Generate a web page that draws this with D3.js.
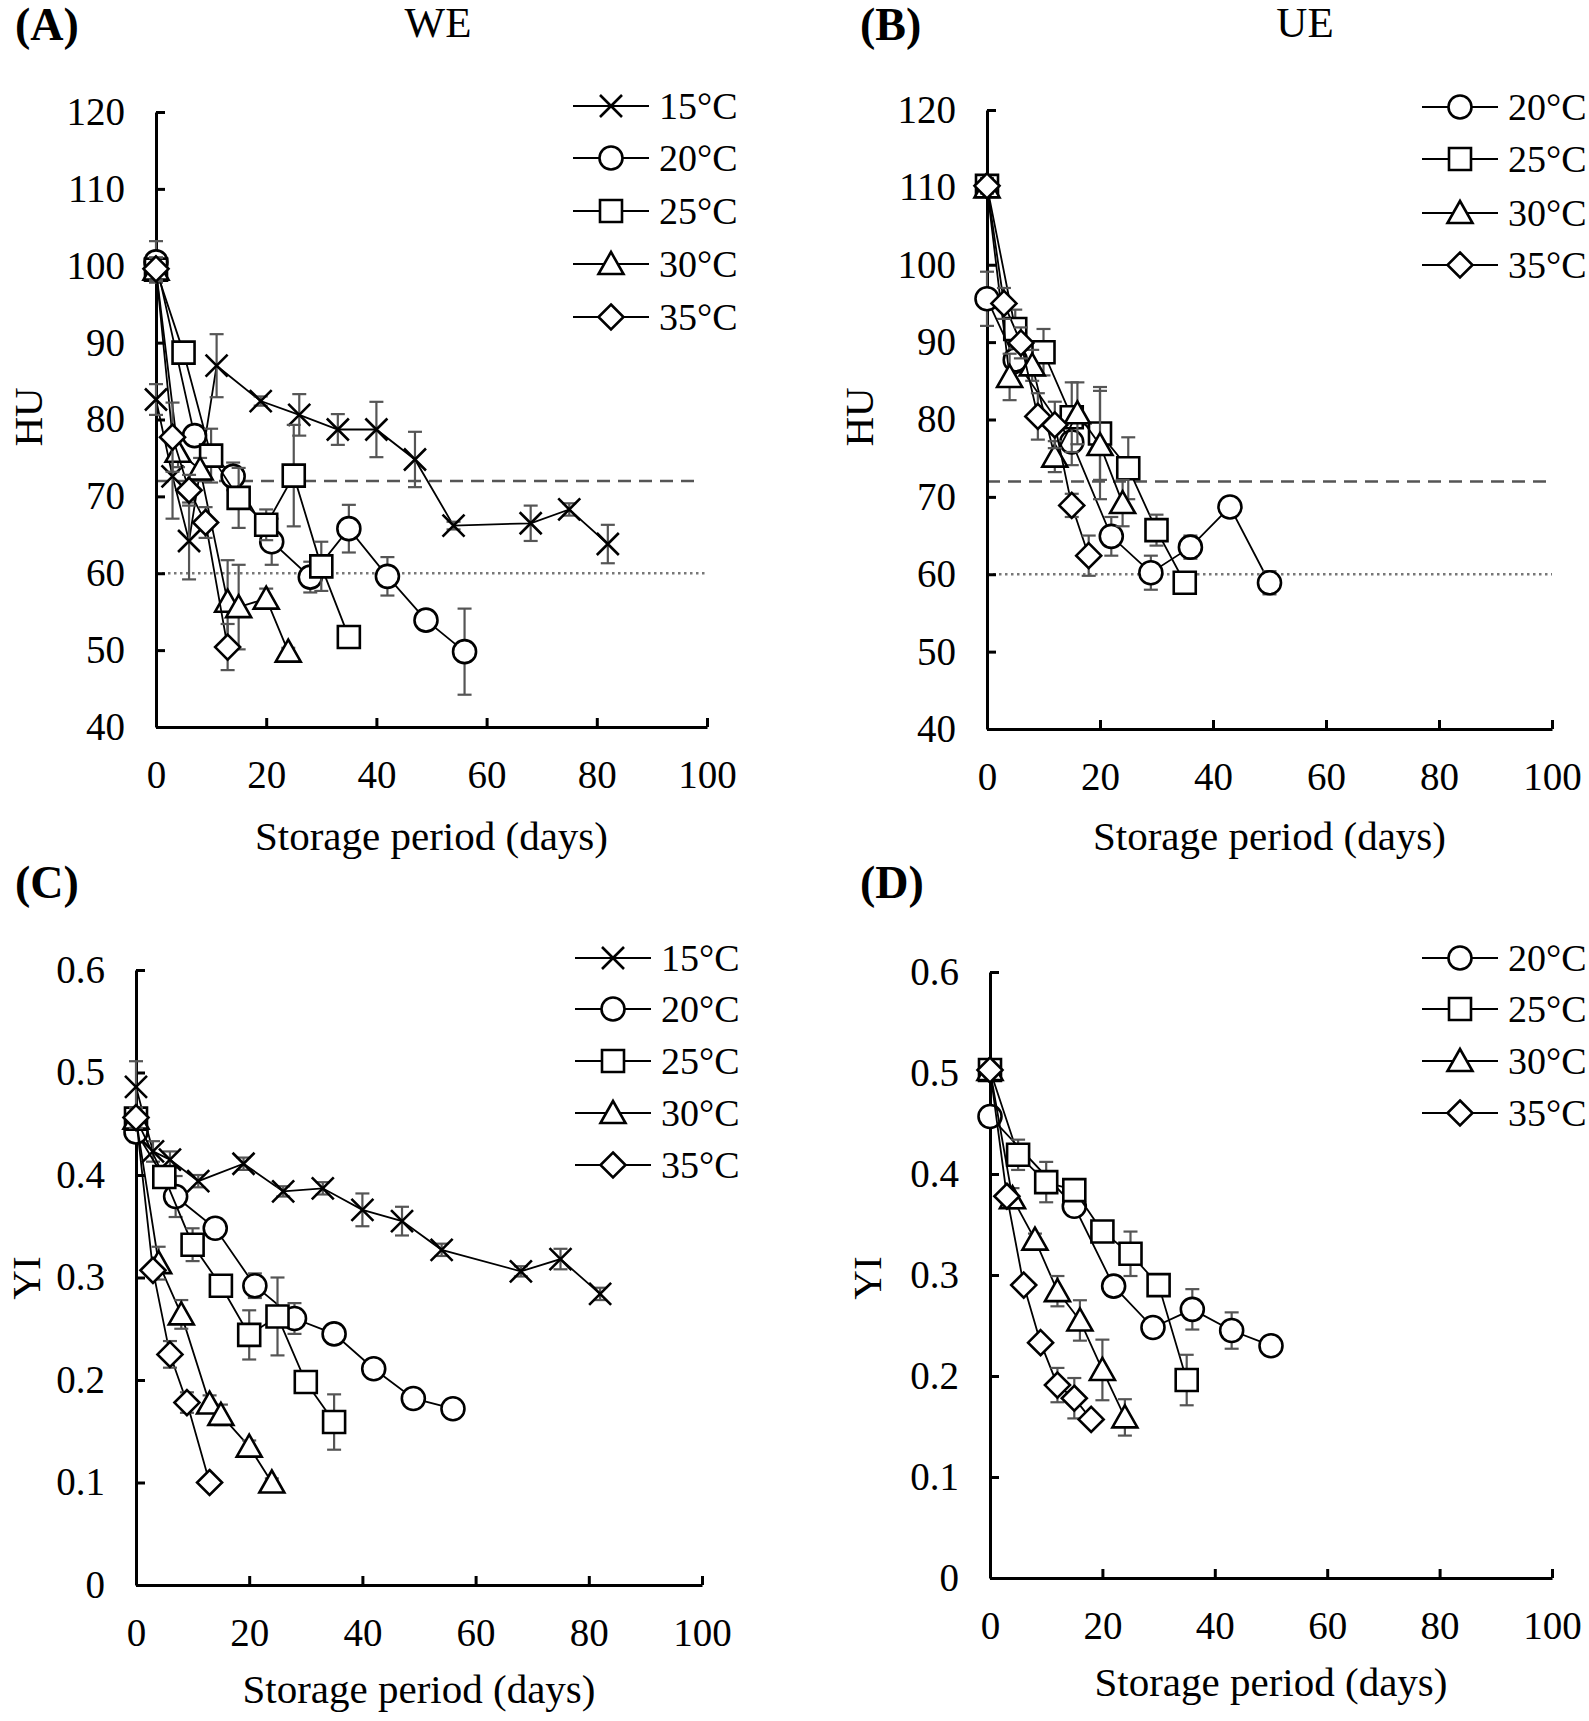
<!DOCTYPE html>
<html><head><meta charset="utf-8">
<script src="https://cdn.jsdelivr.net/npm/d3@7"></script>
<style>
body{margin:0;background:#fff}
svg{display:block}
text{font-family:"Liberation Serif","Times New Roman",serif;fill:#000}
</style>
</head><body>
<svg id="chart" width="1589" height="1721"></svg>
<script>
// ---------- tick labels ----------
const xTicks = [0, 20, 40, 60, 80, 100];
const huTicks = [40, 50, 60, 70, 80, 90, 100, 110, 120];
const yiTicks = [0, 0.1, 0.2, 0.3, 0.4, 0.5, 0.6];
const tempLabels = ["15°C", "20°C", "25°C", "30°C", "35°C"];
const huLimits = [72, 60]; // dashed, dotted reference levels

// ---------- (A) WE, HU ----------
const daysA15 = [0, 3, 6, 11, 19, 26, 33, 40, 47, 54, 68, 75, 82];
const huA15   = [82.6, 72.6, 64.2, 87.0, 82.4, 80.6, 78.7, 78.7, 74.8, 66.2, 66.5, 68.3, 63.8];
const errA15  = [2, 5.5, 5, 4.1, 0.6, 2.7, 2, 3.6, 3.6, 0.5, 2.3, 0.8, 2.5];
const daysA20 = [0, 7, 14, 21, 28, 35, 42, 49, 56];
const huA20   = [100.5, 77.9, 72.6, 64.1, 59.5, 65.8, 59.6, 53.9, 49.8];
const errA20  = [2.7, 1.2, 1.8, 3, 2, 3.1, 2.5, 0.5, 5.6];
const daysA25 = [0, 5, 10, 15, 20, 25, 30, 35];
const huA25   = [99.5, 88.7, 75.3, 69.8, 66.3, 72.7, 60.9, 51.7];
const errA25  = [1.5, 1, 3.5, 3.9, 2, 6.6, 3.2, 0.5];
const daysA30 = [0, 4, 8, 13, 15, 20, 24];
const huA30   = [99.5, 75.8, 73.5, 56.3, 55.6, 56.7, 49.8];
const errA30  = [1.5, 2, 1.5, 5.4, 5.5, 1.3, 0.5];
const daysA35 = [0, 3, 6, 9, 13];
const huA35   = [99.6, 77.7, 70.8, 66.6, 50.4];
const errA35  = [1.5, 4.5, 2, 2, 3];

// ---------- (B) UE, HU ----------
const daysB20 = [0, 5, 15, 22, 29, 36, 43, 50];
const huB20   = [95.6, 87.7, 77.1, 64.9, 60.2, 63.5, 68.7, 58.9];
const errB20  = [3.5, 1.5, 3, 2.5, 2.2, 1.5, 0.5, 1.5];
const daysB25 = [0, 5, 10, 15, 20, 25, 30, 35];
const huB25   = [110.2, 91.7, 88.7, 80.3, 78.2, 73.7, 65.7, 58.9];
const errB25  = [1, 2.5, 3, 4.5, 6, 4, 2, 0.5];
const daysB30 = [0, 4, 8, 12, 16, 20, 24];
const huB30   = [110, 85.5, 87, 75.2, 80.8, 76.7, 69.2];
const errB30  = [1, 3, 2, 2, 4, 7, 3];
const daysB35 = [0, 3, 6, 9, 12, 15, 18];
const huB35   = [110.2, 95, 89.9, 80.4, 79.3, 68.9, 62.4];
const errB35  = [1, 2, 2, 3, 3, 1.5, 2.6];

// ---------- (C) WE, YI ----------
const daysC15 = [0, 3, 6, 11, 19, 26, 33, 40, 47, 54, 68, 75, 82];
const yiC15   = [0.486, 0.423, 0.415, 0.394, 0.411, 0.384, 0.387, 0.366, 0.355, 0.327, 0.306, 0.318, 0.284];
const errC15  = [0.025, 0.01, 0.008, 0.006, 0.006, 0.005, 0.006, 0.016, 0.014, 0.006, 0.005, 0.01, 0.006];
const daysC20 = [0, 7, 14, 21, 28, 35, 42, 49, 56];
const yiC20   = [0.442, 0.379, 0.348, 0.292, 0.260, 0.245, 0.211, 0.182, 0.172];
const errC20  = [0.01, 0.02, 0.008, 0.012, 0.015, 0.005, 0.005, 0.005, 0.005];
const daysC25 = [0, 5, 10, 15, 20, 25, 30, 35];
const yiC25   = [0.455, 0.398, 0.332, 0.292, 0.244, 0.262, 0.198, 0.159];
const errC25  = [0.01, 0.01, 0.016, 0.008, 0.024, 0.038, 0.005, 0.027];
const daysC30 = [0, 4, 8, 13, 15, 20, 24];
const yiC30   = [0.455, 0.314, 0.264, 0.177, 0.166, 0.135, 0.100];
const errC30  = [0.01, 0.016, 0.014, 0.008, 0.01, 0.006, 0.004];
const daysC35 = [0, 3, 6, 9, 13];
const yiC35   = [0.456, 0.307, 0.225, 0.178, 0.100];
const errC35  = [0.01, 0.006, 0.013, 0.01, 0.004];

// ---------- (D) UE, YI ----------
const daysD20 = [0, 15, 22, 29, 36, 43, 50];
const yiD20   = [0.457, 0.368, 0.289, 0.248, 0.266, 0.245, 0.230];
const errD20  = [0.008, 0.008, 0.006, 0.006, 0.02, 0.018, 0.005];
const daysD25 = [0, 5, 10, 15, 20, 25, 30, 35];
const yiD25   = [0.503, 0.419, 0.392, 0.384, 0.343, 0.321, 0.290, 0.196];
const errD25  = [0.005, 0.015, 0.02, 0.01, 0.005, 0.022, 0.005, 0.025];
const daysD30 = [0, 4, 8, 12, 16, 20, 24];
const yiD30   = [0.503, 0.376, 0.335, 0.284, 0.255, 0.206, 0.159];
const errD30  = [0.005, 0.01, 0.006, 0.015, 0.02, 0.03, 0.018];
const daysD35 = [0, 3, 6, 9, 12, 15, 18];
const yiD35   = [0.503, 0.378, 0.290, 0.233, 0.191, 0.178, 0.157];
const errD35  = [0.005, 0.005, 0.005, 0.005, 0.017, 0.02, 0.005];

// ---------- drawing ----------
const svg = d3.select("#chart");
const TICK_FONT = 39;
const LEG_FONT = 38;
const TITLE_FONT = 41;

function markerPath(shape) {
  const p = d3.path();
  if (shape === "circle") { p.moveTo(11.5, 0); p.arc(0, 0, 11.5, 0, 2 * Math.PI); }
  else if (shape === "square") { p.rect(-11, -11, 22, 22); }
  else if (shape === "triangle") { p.moveTo(0, -12); p.lineTo(12.5, 10); p.lineTo(-12.5, 10); p.closePath(); }
  else if (shape === "diamond") { p.moveTo(0, -12.5); p.lineTo(12.5, 0); p.lineTo(0, 12.5); p.lineTo(-12.5, 0); p.closePath(); }
  else if (shape === "x") { p.moveTo(-11, -11); p.lineTo(11, 11); p.moveTo(11, -11); p.lineTo(-11, 11); }
  return p.toString();
}
function drawMarker(g, shape, cx, cy) {
  g.append("path").attr("d", markerPath(shape))
    .attr("transform", `translate(${cx},${cy})`)
    .attr("fill", shape === "x" ? "none" : "#fff")
    .attr("stroke", "#000").attr("stroke-width", 2.6);
}

function panel(cfg) {
  const g = svg.append("g");
  const x = d3.scaleLinear().domain([0, 100]).range([cfg.x0, cfg.x1]);
  const y = d3.scaleLinear().domain(cfg.yDomain).range([cfg.yBot, cfg.yTop]);

  // reference lines
  if (cfg.refs) {
    g.append("line").attr("x1", x(0)).attr("x2", x(cfg.dashEnd))
      .attr("y1", y(huLimits[0])).attr("y2", y(huLimits[0]))
      .attr("stroke", "#555").attr("stroke-width", 2.5).attr("stroke-dasharray", "13,8");
    g.append("line").attr("x1", x(0)).attr("x2", x(100))
      .attr("y1", y(huLimits[1])).attr("y2", y(huLimits[1]))
      .attr("stroke", "#777").attr("stroke-width", 2.5).attr("stroke-dasharray", "2.5,3.5");
  }

  // axes
  const ax = g.append("g").attr("transform", `translate(0,${cfg.yBot})`)
    .call(d3.axisBottom(x).tickValues(xTicks).tickSize(-9).tickSizeOuter(0).tickPadding(33));
  const ay = g.append("g").attr("transform", `translate(${cfg.x0},0)`)
    .call(d3.axisLeft(y).tickValues(cfg.yTicks).tickSize(-9).tickSizeOuter(0).tickPadding(31)
      .tickFormat(cfg.fmt));
  [ax, ay].forEach(a => {
    a.select(".domain").attr("stroke", "#000").attr("stroke-width", 3);
    a.selectAll(".tick line").attr("stroke", "#000").attr("stroke-width", 3);
    a.selectAll(".tick text").attr("font-size", TICK_FONT)
      .attr("font-family", '"Liberation Serif","Times New Roman",serif').attr("fill", "#000");
  });

  // series
  cfg.series.forEach(s => {
    const pts = s.days.map((d, i) => ({ d, v: s.vals[i], e: s.errs[i] }));
    g.append("path").datum(pts)
      .attr("d", d3.line().x(p => x(p.d)).y(p => y(p.v)))
      .attr("fill", "none").attr("stroke", "#000").attr("stroke-width", 1.8);
    pts.forEach(p => {
      const xt = x(p.d), yt = y(p.v + p.e), yb = y(p.v - p.e);
      g.append("line").attr("x1", xt).attr("x2", xt).attr("y1", yt).attr("y2", yb)
        .attr("stroke", "#555").attr("stroke-width", 2.2);
      [yt, yb].forEach(yy => g.append("line").attr("x1", xt - 7).attr("x2", xt + 7)
        .attr("y1", yy).attr("y2", yy).attr("stroke", "#555").attr("stroke-width", 2.2));
    });
    pts.forEach(p => drawMarker(g, s.shape, x(p.d), y(p.v)));
  });

  // legend
  cfg.series.forEach((s, i) => {
    const ly = cfg.legY[i];
    g.append("line").attr("x1", cfg.legX).attr("x2", cfg.legX + 76).attr("y1", ly).attr("y2", ly)
      .attr("stroke", "#000").attr("stroke-width", 1.8);
    drawMarker(g, s.shape, cfg.legX + 38, ly);
    g.append("text").attr("x", cfg.legX + 86).attr("y", ly + 13).attr("font-size", LEG_FONT).text(s.label);
  });

  // titles
  g.append("text").attr("x", (cfg.x0 + cfg.x1) / 2).attr("y", cfg.yBot + cfg.titleOff)
    .attr("text-anchor", "middle").attr("font-size", TITLE_FONT).text("Storage period (days)");
  // rotated y title: baseline placed at yLabX (glyphs extend to the left of it)
  g.append("text").attr("transform", `translate(${cfg.yLabX},${cfg.yLabY}) rotate(-90)`)
    .attr("text-anchor", "middle").attr("font-size", TITLE_FONT).text(cfg.yLabel);
  g.append("text").attr("x", cfg.letterX).attr("y", cfg.letterY).attr("font-size", 46)
    .attr("font-weight", "bold").text(cfg.letter);
  if (cfg.head) g.append("text").attr("x", cfg.headX).attr("y", cfg.letterY - 3)
    .attr("text-anchor", "middle").attr("font-size", 43).text(cfg.head);
}

const fmtHU = d => String(d);
const fmtYI = d => d === 0 ? "0" : d.toFixed(1);
const mk = (days, vals, errs, shape, label) => ({ days, vals, errs, shape, label });

panel({
  x0: 156, x1: 707, yTop: 112, yBot: 727, yDomain: [40, 120], yTicks: huTicks, fmt: fmtHU,
  refs: true, dashEnd: 98,
  series: [mk(daysA15, huA15, errA15, "x", tempLabels[0]), mk(daysA20, huA20, errA20, "circle", tempLabels[1]),
           mk(daysA25, huA25, errA25, "square", tempLabels[2]), mk(daysA30, huA30, errA30, "triangle", tempLabels[3]),
           mk(daysA35, huA35, errA35, "diamond", tempLabels[4])],
  legX: 573, legY: [106, 158, 211, 264, 317],
  titleOff: 123, yLabel: "HU", yLabX: 42, yLabY: 417,
  letter: "(A)", letterX: 15, letterY: 40, head: "WE", headX: 438
});
panel({
  x0: 987, x1: 1552, yTop: 110, yBot: 729, yDomain: [40, 120], yTicks: huTicks, fmt: fmtHU,
  refs: true, dashEnd: 100,
  series: [mk(daysB20, huB20, errB20, "circle", tempLabels[1]), mk(daysB25, huB25, errB25, "square", tempLabels[2]),
           mk(daysB30, huB30, errB30, "triangle", tempLabels[3]), mk(daysB35, huB35, errB35, "diamond", tempLabels[4])],
  legX: 1422, legY: [107, 159, 213, 265],
  titleOff: 121, yLabel: "HU", yLabX: 873, yLabY: 417,
  letter: "(B)", letterX: 860, letterY: 40, head: "UE", headX: 1305
});
panel({
  x0: 136, x1: 702, yTop: 970, yBot: 1585, yDomain: [0, 0.6], yTicks: yiTicks, fmt: fmtYI,
  refs: false,
  series: [mk(daysC15, yiC15, errC15, "x", tempLabels[0]), mk(daysC20, yiC20, errC20, "circle", tempLabels[1]),
           mk(daysC25, yiC25, errC25, "square", tempLabels[2]), mk(daysC30, yiC30, errC30, "triangle", tempLabels[3]),
           mk(daysC35, yiC35, errC35, "diamond", tempLabels[4])],
  legX: 575, legY: [958, 1009, 1061, 1113, 1165],
  titleOff: 118, yLabel: "YI", yLabX: 40, yLabY: 1278,
  letter: "(C)", letterX: 15, letterY: 898
});
panel({
  x0: 990, x1: 1552, yTop: 972, yBot: 1578, yDomain: [0, 0.6], yTicks: yiTicks, fmt: fmtYI,
  refs: false,
  series: [mk(daysD20, yiD20, errD20, "circle", tempLabels[1]), mk(daysD25, yiD25, errD25, "square", tempLabels[2]),
           mk(daysD30, yiD30, errD30, "triangle", tempLabels[3]), mk(daysD35, yiD35, errD35, "diamond", tempLabels[4])],
  legX: 1422, legY: [958, 1009, 1061, 1113],
  titleOff: 118, yLabel: "YI", yLabX: 881, yLabY: 1278,
  letter: "(D)", letterX: 860, letterY: 898
});
</script>
</body></html>
